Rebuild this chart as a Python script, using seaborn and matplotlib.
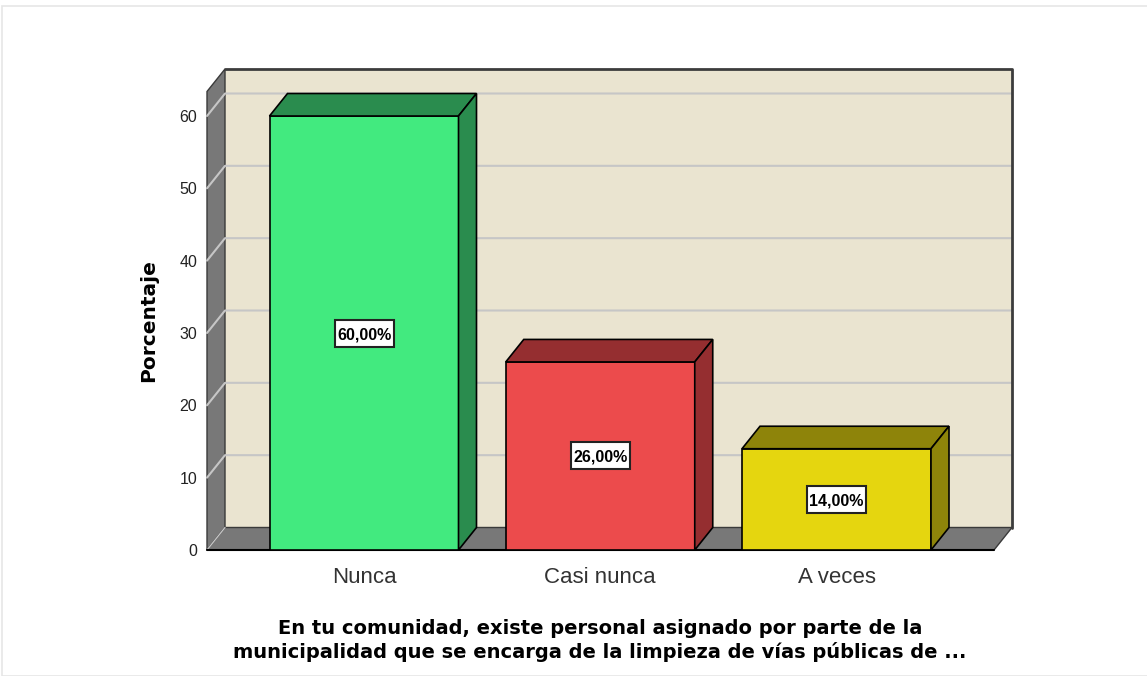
import matplotlib.pyplot as plt
import seaborn as sns
from matplotlib.patches import Polygon, Rectangle

# Datos
categorias = ['Nunca', 'Casi nunca', 'A veces']
porcentajes = [60.0, 26.0, 14.0]
etiquetas = ['60,00%', '26,00%', '14,00%']
marcas_y = [0, 10, 20, 30, 40, 50, 60]
colores_frente = ['#42ea7f', '#ec4b4c', '#e5d60f']
colores_lado = ['#2a8c4e', '#952e30', '#8e840a']

titulo_x = ('En tu comunidad, existe personal asignado por parte de la\n'
            'municipalidad que se encarga de la limpieza de vías públicas de ...')

sns.set_theme(style='white')
plt.rcParams['font.family'] = ['DejaVu Sans']
fuente_arial = ['Liberation Sans', 'DejaVu Sans']

W, H = 1147, 676
fig = plt.figure(figsize=(W / 100, H / 100), dpi=100)
fig.patch.set_facecolor('white')

# marco gris claro de la figura
fig.patches.append(Rectangle((2 / W, 0), 1, 1 - 6 / H, transform=fig.transFigure,
                             fill=False, edgecolor='#e6e6e6', lw=1.2))

# ejes: plano frontal + profundidad
ax = fig.add_axes([207 / W, 1 - 550 / H, 805 / W, 481 / H])

px_x = 236.25
px_y = 434 / 60
x_min = -157 / px_x
x_max = x_min + 805 / px_x
x_frente = x_min + 787 / px_x
y_max = 481 / px_y
dx = 18 / px_x
dy = 22.5 / px_y

sns.barplot(x=categorias, y=porcentajes, hue=categorias, palette=colores_frente,
            legend=False, width=0.8, saturation=1, edgecolor='black',
            linewidth=1.2, ax=ax, zorder=3)

ax.set_xlim(x_min, x_max)
ax.set_ylim(0, y_max)
ax.set_facecolor('none')

gris = '#787878'
borde = '#3a3a3a'
# pared del fondo
ax.add_patch(Rectangle((x_min + dx, dy), x_max - x_min - dx, y_max - dy,
                       facecolor='#eae4d0', edgecolor='none', zorder=0.5))
# pared lateral
ax.add_patch(Polygon([(x_min, 0), (x_min, y_max - dy), (x_min + dx, y_max), (x_min + dx, dy)],
                     closed=True, facecolor=gris, edgecolor=borde, lw=1, zorder=0.6,
                     clip_on=False))
# piso
ax.add_patch(Polygon([(x_min, 0), (x_frente, 0), (x_max, dy), (x_min + dx, dy)],
                     closed=True, facecolor=gris, edgecolor=borde, lw=1, zorder=0.6,
                     clip_on=False))
# rejilla
for v in marcas_y[1:]:
    ax.plot([x_min, x_min + dx, x_max], [v, v + dy, v + dy], color='#c6c6c6',
            lw=1.5, zorder=0.8, clip_on=False)
ax.plot([x_min, x_min + dx], [0, dy], color='#c6c6c6', lw=1, zorder=0.8)
ax.plot([x_min + dx, x_max, x_max], [y_max, y_max, dy], color='#3c3c3c',
        lw=2, zorder=1, clip_on=False)
ax.plot([x_min, x_frente], [0, 0], color='black', lw=1.5, zorder=2, clip_on=False)

# caras superior y lateral de las barras
barras = sorted([p for p in ax.patches if p.get_zorder() == 3], key=lambda p: p.get_x())
caja_w = 59 / px_x
caja_h = 27 / px_y
for i, p in enumerate(barras):
    x0, w, h = p.get_x(), p.get_width(), p.get_height()
    x1 = x0 + w
    ax.add_patch(Polygon([(x0, h), (x1, h), (x1 + dx, h + dy), (x0 + dx, h + dy)],
                         closed=True, facecolor=colores_lado[i], edgecolor='black',
                         lw=1.2, zorder=3, clip_on=False))
    ax.add_patch(Polygon([(x1, 0), (x1, h), (x1 + dx, h + dy), (x1 + dx, dy)],
                         closed=True, facecolor=colores_lado[i], edgecolor='black',
                         lw=1.2, zorder=3, clip_on=False))
    xc, yc = x0 + w / 2, h / 2
    ax.add_patch(Rectangle((xc - caja_w / 2, yc - caja_h / 2), caja_w, caja_h,
                           facecolor='white', edgecolor='#222222', lw=1.5, zorder=4))
    ax.text(xc, yc, etiquetas[i], ha='center', va='center_baseline',
            fontsize=11.5, fontweight='bold', family=fuente_arial,
            color='black', zorder=5)

for s in ax.spines.values():
    s.set_visible(False)
ax.set_yticks(marcas_y)
ax.set_yticklabels([str(v) for v in marcas_y], family=fuente_arial, fontsize=11.5,
                   color='#222222')
ax.set_xticks(range(len(categorias)))
ax.set_xticklabels(categorias, family=fuente_arial, fontsize=16, color='#333333')
ax.tick_params(axis='y', length=0, pad=7)
ax.tick_params(axis='x', length=0, pad=12)
ax.set_xlabel('')
ax.set_ylabel('')

fig.text(149 / W, 1 - 321 / H, 'Porcentaje', rotation=90, ha='center', va='center',
         fontsize=14.5, fontweight='bold', color='black')
fig.text(600 / W, 1 - 640 / H, titulo_x, ha='center', va='center', fontsize=14,
         fontweight='bold', color='black', linespacing=1.25)

fig.savefig('out.png', dpi=100)
